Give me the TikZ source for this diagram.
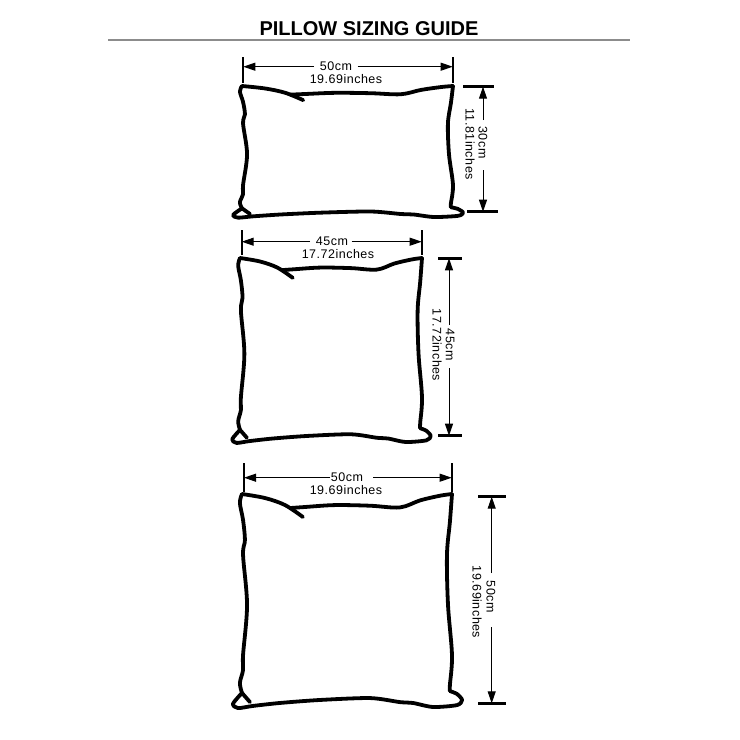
\documentclass[tikz,border=0pt]{standalone}
\usepackage{fontspec}
\setmainfont{Liberation Sans}
\usetikzlibrary{arrows.meta,calc}

\tikzset{
  pillowline/.style={line width=3.8pt, line cap=round, line join=round},
  dimline/.style={line width=1pt, -{Triangle[length=12pt,width=8pt]}},
  tickline/.style={line width=1.8pt},
  htickline/.style={line width=2.8pt},
  dimlabel/.style={font=\fontsize{12.5}{14}\selectfont\addfontfeature{LetterSpace=4}, inner sep=0pt},
}

\begin{document}
\begin{tikzpicture}[x=1pt,y=-1pt]
\useasboundingbox (0,0) rectangle (740,740);

% title
\node[anchor=base, font=\fontsize{20}{24}\selectfont\bfseries] (title) at (369,35) {PILLOW SIZING GUIDE};
\draw[line width=1.5pt, color=black!45] (108,40) -- (630,40);

% the three pillows (one outline, scaled)
\foreach \px/\py/\pw/\ph in {242/86/211/131, 240/258/182/184, 242/494/210/213}{
\begin{scope}[shift={(\px,\py)}, xscale=\pw, yscale=\ph]
  \draw[pillowline] plot[smooth, tension=0.55] coordinates {(0.29,0.108) (0.205,0.052) (0.11,0.019) (0,0)};
  \draw[pillowline] plot[smooth, tension=0.55] coordinates {(0,0) (-0.01,0.042) (0.005,0.122) (0.014,0.216) (0.005,0.286) (0.024,0.521) (0.005,0.756) (0.005,0.826) (-0.01,0.887) (0,0.934)};
  \draw[pillowline] plot[smooth, tension=0.45] coordinates {(0,0.934) (-0.043,0.985) (-0.019,1.005) (0.052,0.995) (0.181,0.981) (0.371,0.967) (0.61,0.958) (0.752,0.977) (0.814,0.981) (0.91,1.0) (1.024,0.991) (1.048,0.967) (1.024,0.939) (0.99,0.925)};
  \draw[pillowline] plot[smooth, tension=0.55] coordinates {(0.99,0.925) (0.99,0.897) (1,0.757) (0.981,0.521) (0.976,0.286) (0.99,0.131) (1,0)};
  \draw[pillowline] plot[smooth, tension=0.55] coordinates {(1,0) (0.943,0.008) (0.848,0.03) (0.752,0.063) (0.61,0.055) (0.443,0.052) (0.3,0.061) (0.229,0.066)};
  \draw[pillowline] (0,0.934) -- (0.038,0.977);
\end{scope}
}

% pillow 1: 50 x 30
\draw[tickline] (243.3,57) -- (243.3,83);
\draw[tickline] (452.7,57) -- (452.7,83);
\coordinate (w1l) at (243.3,66.7);
\coordinate (w1r) at (452.7,66.7);
\draw[dimline] (314,66.7) -- (w1l);
\draw[dimline] (357.7,66.7) -- (w1r);
\node[dimlabel] (w1cm) at (336,66) {50cm};
\node[dimlabel] (w1in) at (346,79) {19.69inches};

\draw[htickline] (463,86.7) -- (494,86.7);
\draw[htickline] (467,211.7) -- (498,211.7);
\coordinate (h1t) at (483,86.7);
\coordinate (h1b) at (483,211.7);
\draw[dimline] (483,120) -- (h1t);
\draw[dimline] (483,170) -- (h1b);
\node[dimlabel, rotate=-90] (h1cm) at (483,142.5) {30cm};
\node[dimlabel, rotate=-90] (h1in) at (470,144) {11.81inches};

% pillow 2: 45 x 45
\draw[tickline] (241.7,230) -- (241.7,255);
\draw[tickline] (421.7,230) -- (421.7,255);
\coordinate (w2l) at (241.7,241.7);
\coordinate (w2r) at (421.7,241.7);
\draw[dimline] (310,241.7) -- (w2l);
\draw[dimline] (351.7,241.7) -- (w2r);
\node[dimlabel] (w2cm) at (332,241) {45cm};
\node[dimlabel] (w2in) at (338,254) {17.72inches};

\draw[htickline] (438,258.3) -- (462,258.3);
\draw[htickline] (438,435.7) -- (462,435.7);
\coordinate (h2t) at (449,258.3);
\coordinate (h2b) at (449,435.7);
\draw[dimline] (449,325) -- (h2t);
\draw[dimline] (449,368) -- (h2b);
\node[dimlabel, rotate=-90] (h2cm) at (450,345) {45cm};
\node[dimlabel, rotate=-90] (h2in) at (437,345) {17.72inches};

% pillow 3: 50 x 50
\draw[tickline] (244,463) -- (244,492);
\draw[tickline] (451.7,463) -- (451.7,492);
\coordinate (w3l) at (244,477.7);
\coordinate (w3r) at (451.7,477.7);
\draw[dimline] (330,477.7) -- (w3l);
\draw[dimline] (373.3,477.7) -- (w3r);
\node[dimlabel] (w3cm) at (347,477.5) {50cm};
\node[dimlabel] (w3in) at (346,490) {19.69inches};

\draw[htickline] (478,496.7) -- (506,496.7);
\draw[htickline] (478,703.3) -- (506,703.3);
\coordinate (h3t) at (491.7,496.7);
\coordinate (h3b) at (491.7,703.3);
\draw[dimline] (491.7,573) -- (h3t);
\draw[dimline] (491.7,627) -- (h3b);
\node[dimlabel, rotate=-90] (h3cm) at (491,597) {50cm};
\node[dimlabel, rotate=-90] (h3in) at (477,602) {19.69inches};
\end{tikzpicture}
\end{document}
